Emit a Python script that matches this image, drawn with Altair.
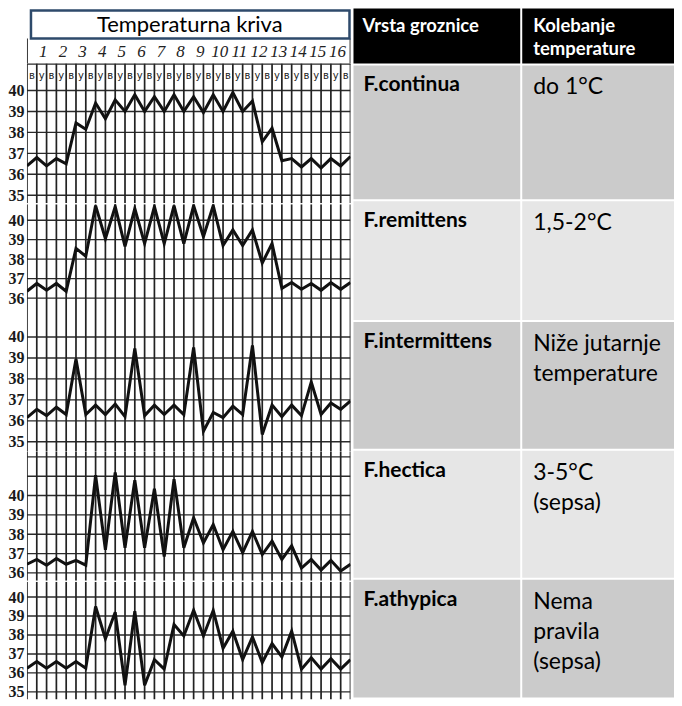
import altair as alt
import pandas as pd

# ---------------- data ----------------
day_numbers = list(range(1, 17))
slot_labels = ["в", "у"] * 16 + ["в"]

continua = [36.4, 36.8, 36.4, 36.75, 36.5, 38.45, 38.15, 39.4, 38.65, 39.55, 39.0, 39.8,
            39.0, 39.7, 39.0, 39.8, 39.0, 39.7, 38.95, 39.8, 39.0, 39.9, 39.0, 39.5,
            37.55, 38.2, 36.65, 36.75, 36.35, 36.75, 36.3, 36.75, 36.4, 36.85]
remittens = [36.35, 36.75, 36.4, 36.75, 36.35, 38.55, 38.15, 40.75, 39.05, 40.7, 38.65, 40.6,
             38.8, 40.7, 38.8, 40.75, 38.8, 40.75, 39.15, 40.75, 38.7, 39.5, 38.7, 39.5,
             37.8, 38.8, 36.5, 36.8, 36.45, 36.75, 36.4, 36.8, 36.45, 36.8]
intermittens = [36.15, 36.55, 36.25, 36.65, 36.3, 38.95, 36.3, 36.75, 36.3, 36.8, 36.2, 39.45,
                36.25, 36.75, 36.3, 36.75, 36.3, 39.5, 35.5, 36.4, 36.15, 36.7, 36.3, 39.6,
                35.35, 36.75, 36.2, 36.75, 36.25, 37.85, 36.3, 36.85, 36.55, 36.95]
hectica = [36.45, 36.7, 36.4, 36.75, 36.45, 36.65, 36.4, 41.05, 37.2, 41.2, 37.3, 40.8,
           37.3, 40.35, 36.85, 40.85, 37.3, 38.85, 37.55, 38.5, 37.2, 38.15, 37.05, 38.15,
           36.95, 37.65, 36.7, 37.4, 36.25, 36.7, 36.15, 36.65, 36.1, 36.45]
athypica = [36.25, 36.6, 36.25, 36.6, 36.25, 36.6, 36.25, 39.5, 37.8, 39.2, 35.35, 39.25,
            35.35, 36.7, 36.2, 38.55, 37.95, 39.3, 37.95, 39.3, 37.3, 38.2, 36.7, 37.9,
            36.55, 37.55, 36.85, 38.2, 36.2, 36.8, 36.2, 36.75, 36.2, 36.7]

p1_grid = [35, 36, 37, 38, 39, 40]
p2_grid = [36, 37, 38, 39, 40]
p3_grid = [35, 36, 37, 38, 39, 40]
p4_grid = [36, 37, 38, 39, 40, 41, 42]
p5_grid = [35, 36, 37, 38, 39, 40]
p1_labels = [35, 36, 37, 38, 39, 40]
p2_labels = [36, 37, 38, 39, 40]
p3_labels = [35, 36, 37, 38, 39, 40]
p4_labels = [36, 37, 38, 39, 40]
p5_labels = [35, 36, 37, 38, 39, 40]

chart_title = ["Temperaturna kriva"]
header_texts = ["Vrsta groznice", "Kolebanje\ntemperature"]
fever_types = ["F.continua", "F.remittens", "F.intermittens", "F.hectica", "F.athypica"]
fluctuations = ["do 1°C", "1,5-2°C", "Niže jutarnje\ntemperature", "3-5°C\n(sepsa)",
                "Nema\npravila\n(sepsa)"]

# ---------------- layout / style ----------------
N_SLOTS = 34
PLOT_W = 324
AXIS_W = 19
X_SCALE = alt.Scale(domain=[0, 33], nice=False, zero=False)


def x_enc(field):
    return alt.X(f"{field}:Q", scale=X_SCALE, axis=None)


def panel(values, domain, grid, labels, height, header_row=False):
    y = alt.Y("temp:Q", scale=alt.Scale(domain=domain, nice=False, zero=False),
              axis=alt.Axis(values=labels, grid=False, ticks=False, domain=False, title=None,
                            labelFont="Liberation Serif", labelFontWeight="bold",
                            labelFontSize=16, labelColor="#1a1a1a", labelPadding=3,
                            labelOverlap=False, minExtent=AXIS_W, maxExtent=AXIS_W))
    vl = alt.Chart(pd.DataFrame({"slot": list(range(N_SLOTS))})).mark_rule(
        color="#222", strokeWidth=1.7, clip=True).encode(x=x_enc("slot"))
    hl = alt.Chart(pd.DataFrame({"temp": grid})).mark_rule(
        color="#2a2a2a", strokeWidth=1.4, clip=True).encode(y=y)
    ln = alt.Chart(pd.DataFrame({"slot": list(range(len(values))), "temp": values})).mark_line(
        color="#111", strokeWidth=3, strokeJoin="miter", clip=True).encode(x=x_enc("slot"), y=y)
    layers = [hl, vl]
    if header_row:
        top = alt.Chart(pd.DataFrame({"k": [0]})).mark_rule(
            color="#2a2a2a", strokeWidth=1.4).encode(y=alt.value(0.7))
        labs = alt.Chart(pd.DataFrame({"slot": list(range(len(slot_labels))), "lab": slot_labels})
                         ).transform_calculate(mid="datum.slot + 0.5").mark_text(
            font="DejaVu Sans", fontSize=10, color="#222").encode(
            x=x_enc("mid"), y=alt.value(13), text="lab:N")
        layers += [top, labs]
    layers.append(ln)
    return alt.layer(*layers).properties(width=PLOT_W, height=height)


# header of the chart column (title box + day numbers)
L0_Y = alt.Scale(domain=[0, 55], reverse=True, nice=False, zero=False)
L0_AXIS = alt.Axis(labels=False, ticks=False, domain=False, grid=False, title=None,
                   minExtent=AXIS_W, maxExtent=AXIS_W)


def y0(v):
    return alt.Y(datum=v, type="quantitative", scale=L0_Y, axis=L0_AXIS)


edges = alt.Chart(pd.DataFrame({"slot": [0, 33]})).mark_rule(
    color="#222", strokeWidth=1.8, clip=True).encode(x=x_enc("slot"), y=y0(30), y2=alt.datum(55))
box = alt.Chart(pd.DataFrame({"t": chart_title})).mark_rect(
    fill="white", stroke="#2e4a6b", strokeWidth=2.5).encode(
    x=alt.value(4), x2=alt.value(323), y=y0(2), y2=alt.datum(30))
title = alt.Chart(pd.DataFrame({"t": chart_title})).mark_text(
    font="Lato", fontSize=22, color="black").encode(x=alt.value(163), y=y0(17), text="t:N")
days = alt.Chart(pd.DataFrame({"day": day_numbers})).transform_calculate(
    pos="2*datum.day - 0.33").mark_text(
    font="Liberation Serif", fontStyle="italic", fontSize=17, color="#222").encode(
    x=x_enc("pos"), y=y0(44), text="day:N")
L0 = alt.layer(edges, box, title, days).properties(width=PLOT_W, height=55)

P1 = panel(continua, [34.62, 41.29], p1_grid, p1_labels, 140, header_row=True)
P2 = panel(remittens, [34.82, 40.82], p2_grid, p2_labels, 117)
P3 = panel(intermittens, [34.52, 40.76], p3_grid, p3_labels, 131)
P4 = panel(hectica, [35.6, 42.26], p4_grid, p4_labels, 129)
P5 = panel(athypica, [34.6, 40.81], p5_grid, p5_labels, 118)

left = alt.vconcat(L0, P1, P2, P3, P4, P5, spacing=0)


# table column
def cell(text, width, height, fill, color, weight, size, dx, base, lh):
    return alt.Chart(pd.DataFrame({"t": [text]})).mark_text(
        align="left", baseline="alphabetic", font="Lato", fontWeight=weight, fontSize=size,
        color=color, lineBreak="\n", lineHeight=lh).encode(
        x=alt.value(dx), y=alt.value(base), text="t:N").properties(
        width=width, height=height, view=alt.ViewBackground(fill=fill, stroke=None))


C1W, C2W = 167, 152
row_heights = [134, 119, 127, 127, 118]
row_fills = ["#cbcbcb", "#e6e6e6", "#cbcbcb", "#e6e6e6", "#cbcbcb"]

rows = [alt.hconcat(
    cell(header_texts[0], C1W, 55, "#000000", "white", "bold", 18.5, 9, 24, 23),
    cell(header_texts[1], C2W, 55, "#000000", "white", "bold", 18.5, 11, 24, 23),
    spacing=2)]
for name, fl, h, f in zip(fever_types, fluctuations, row_heights, row_fills):
    rows.append(alt.hconcat(
        cell(name, C1W, h, f, "black", "bold", 21, 10, 26, 30),
        cell(fl, C2W, h, f, "black", "normal", 23, 11, 29, 30),
        spacing=2))
right = alt.vconcat(*rows, spacing=2)

chart = alt.hconcat(left, right, spacing=2).properties(
    padding=0, background="white").configure_view(stroke=None)

chart.save("out.html", embed_options={"renderer": "svg", "actions": False})
